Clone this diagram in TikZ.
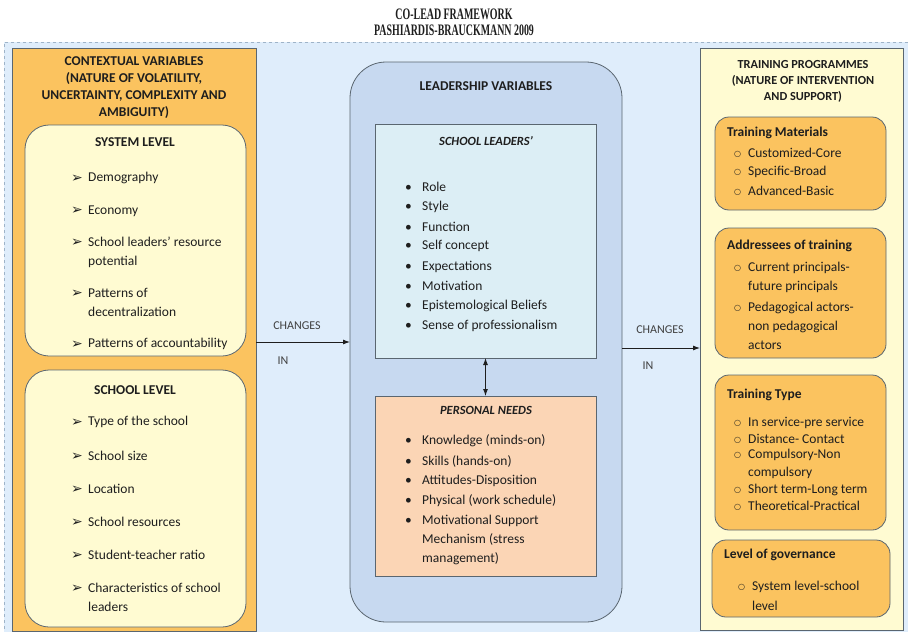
\documentclass[tikz,border=0pt]{standalone}
\usepackage{fontspec}
\setmainfont{Carlito}
\newfontfamily\symfont{DejaVu Sans}
\newfontfamily\titlefont[FakeStretch=0.62]{Liberation Serif}
\usepackage{xcolor}
\usetikzlibrary{arrows.meta,positioning}

\definecolor{ink}{HTML}{1E1E1E}
\definecolor{edge}{HTML}{5A6670}
\definecolor{bgblue}{HTML}{DFEDFB}
\definecolor{dashblue}{HTML}{9EB3C8}
\definecolor{ctxorange}{HTML}{FBC35F}
\definecolor{paleyellow}{HTML}{FFFBD2}
\definecolor{leadblue}{HTML}{C7D9F0}
\definecolor{paleblue}{HTML}{DCEEF5}
\definecolor{peach}{HTML}{FBD5B5}

% bullets and hanging indents
\newcommand{\arrb}{\makebox[17pt][l]{\raisebox{-0.5pt}{\symfont\fontsize{14}{14}\selectfont ➢}}}
\newcommand{\dotb}{\makebox[17pt][l]{\textbullet}}
\newcommand{\ringb}{\makebox[14pt][l]{\raisebox{1pt}{\symfont\fontsize{8}{8}\selectfont ○}}}
\newcommand{\indA}{\hspace*{17pt}}
\newcommand{\indB}{\hspace*{14pt}}

\begin{document}
\begin{tikzpicture}[x=1pt,y=-1pt,
  font=\fontsize{13.5}{17}\selectfont, text=ink,
  box/.style={draw=edge, line width=0.8pt, anchor=north west,
    inner sep=0pt, outer sep=0pt},
  subbox/.style={box, fill=ctxorange, rounded corners=14pt},
  head/.style={font=\fontsize{13.5}{17}\selectfont\bfseries, align=center},
  bold/.style={font=\fontsize{13.5}{17}\selectfont\bfseries},
  boldit/.style={font=\fontsize{12.5}{17}\selectfont\bfseries\itshape},
  item/.style={anchor=west, align=left, inner sep=0pt,
    font=\fontsize{13.5}{19}\selectfont},
  smalltxt/.style={font=\fontsize{12}{14}\selectfont, text=ink!85},
  link/.style={-{Latex[length=7pt,width=5pt]}, line width=0.9pt, draw=ink}
]
  \useasboundingbox (0,0) rectangle (908,632);

  % dashed background frame
  \node[box, draw=dashblue, dashed, fill=bgblue,
    minimum width=904pt, minimum height=590pt] (frame) at (4,42) {};

  % title
  \node[font=\titlefont\fontsize{16}{16}\selectfont\bfseries, align=center]
    (title) at (454,22) {CO-LEAD FRAMEWORK\\PASHIARDIS-BRAUCKMANN 2009};

  % ---- contextual variables (left)
  \node[box, fill=ctxorange, minimum width=244pt, minimum height=583pt]
    (context) at (12,48) {};
  \node[head] (contexthead) at (134,88)
    {CONTEXTUAL VARIABLES\\(NATURE OF VOLATILITY,\\UNCERTAINTY, COMPLEXITY AND\\AMBIGUITY)};

  \node[box, fill=paleyellow, rounded corners=24pt,
    minimum width=221pt, minimum height=231pt] (system) at (25,125) {};
  \node[bold] (systemhead) at (135,142) {SYSTEM LEVEL};
  \foreach \n/\y/\txt in {1/178/Demography, 2/211/Economy,
      3/252/{School leaders' resource\\\indA potential},
      4/302/{Patterns of\\\indA decentralization},
      5/344/Patterns of accountability}
    \node[item] (sys\n) at (71,\y) {\arrb\txt};

  \node[box, fill=paleyellow, rounded corners=24pt,
    minimum width=221pt, minimum height=257pt] (school) at (25,370) {};
  \node[bold] (schoolhead) at (135,390) {SCHOOL LEVEL};
  \foreach \n/\y/\txt in {1/422/Type of the school, 2/456/School size,
      3/489/Location, 4/522/School resources, 5/555/Student-teacher ratio,
      6/597/{Characteristics of school\\\indA leaders}}
    \node[item] (sch\n) at (71,\y) {\arrb\txt};

  % ---- leadership variables (centre)
  \node[box, fill=leadblue, rounded corners=36pt,
    minimum width=272pt, minimum height=560pt] (leadership) at (350,62) {};
  \node[head] (leadhead) at (486,86) {LEADERSHIP VARIABLES};

  \node[box, fill=paleblue, minimum width=221pt, minimum height=234pt]
    (leaders) at (375,124) {};
  \node[boldit] (leadershead) at (486,141) {SCHOOL LEADERS'};
  \foreach \n/\y/\txt in {1/187/Role, 2/207/Style, 3/227/Function,
      4/246/Self concept, 5/267/Expectations, 6/286/Motivation,
      7/306/Epistemological Beliefs, 8/326/Sense of professionalism}
    \node[item] (ldr\n) at (405,\y) {\dotb\txt};

  \node[box, fill=peach, minimum width=221pt, minimum height=180pt]
    (personal) at (375,396) {};
  \node[boldit] (personalhead) at (486,410) {PERSONAL NEEDS};
  \foreach \n/\y/\txt in {1/441/Knowledge (minds-on), 2/461/Skills (hands-on),
      3/481/Attitudes-Disposition, 4/501/Physical (work schedule),
      5/540/{Motivational Support\\\indA Mechanism (stress\\\indA management)}}
    \node[item] (pn\n) at (405,\y) {\dotb\txt};

  \draw[link, {Latex[length=7pt,width=5pt]}-{Latex[length=7pt,width=5pt]}]
    (leaders.south) -- (personal.north);

  % ---- training programmes (right)
  \node[box, fill=paleyellow, minimum width=203pt, minimum height=582pt]
    (training) at (700,48) {};
  \node[head, font=\fontsize{12.3}{16}\selectfont\bfseries] (traininghead) at (803,81)
    {TRAINING PROGRAMMES\\(NATURE OF INTERVENTION\\AND SUPPORT)};

  \node[subbox, minimum width=171pt, minimum height=93pt] (materials) at (715,117) {};
  \node[item, bold] (materialshead) at (727,133) {Training Materials};
  \foreach \n/\y/\txt in {1/153/Customized-Core, 2/172/Specific-Broad,
      3/191/Advanced-Basic}
    \node[item] (mat\n) at (734,\y) {\ringb\txt};

  \node[subbox, minimum width=171pt, minimum height=130pt] (addressees) at (715,228) {};
  \node[item, bold] (addresseeshead) at (727,246) {Addressees of training};
  \foreach \n/\y/\txt in {1/277/{Current principals-\\\indB future principals},
      2/326/{Pedagogical actors-\\\indB non pedagogical\\\indB actors}}
    \node[item] (adr\n) at (734,\y) {\ringb\txt};

  \node[subbox, minimum width=171pt, minimum height=155pt] (type) at (715,375) {};
  \node[item, bold] (typehead) at (727,395) {Training Type};
  \foreach \n/\y/\txt in {1/423/In service-pre service, 2/439/Distance- Contact,
      3/464/{Compulsory-Non\\\indB compulsory}, 4/490/Short term-Long term,
      5/506/Theoretical-Practical}
    \node[item, font=\fontsize{13.5}{17.5}\selectfont] (typ\n) at (734,\y) {\ringb\txt};

  \node[subbox, minimum width=178pt, minimum height=77pt] (governance) at (712,540) {};
  \node[item, bold] (governancehead) at (724,555) {Level of governance};
  \node[item, font=\fontsize{13.5}{20}\selectfont] (gov1) at (738,596)
    {\ringb System level-school\\\indB level};

  % ---- connectors
  \coordinate (outL) at (256,342);
  \coordinate (outR) at (622,348);
  \draw[link] (outL) -- (outL -| leadership.west);
  \draw[link] (outR) -- (outR -| training.west);
  \node[smalltxt] (changesL) at (297,326) {CHANGES};
  \node[smalltxt] (inL) at (283,361) {IN};
  \node[smalltxt] (changesR) at (660,330) {CHANGES};
  \node[smalltxt] (inR) at (648,366) {IN};
\end{tikzpicture}
\end{document}
